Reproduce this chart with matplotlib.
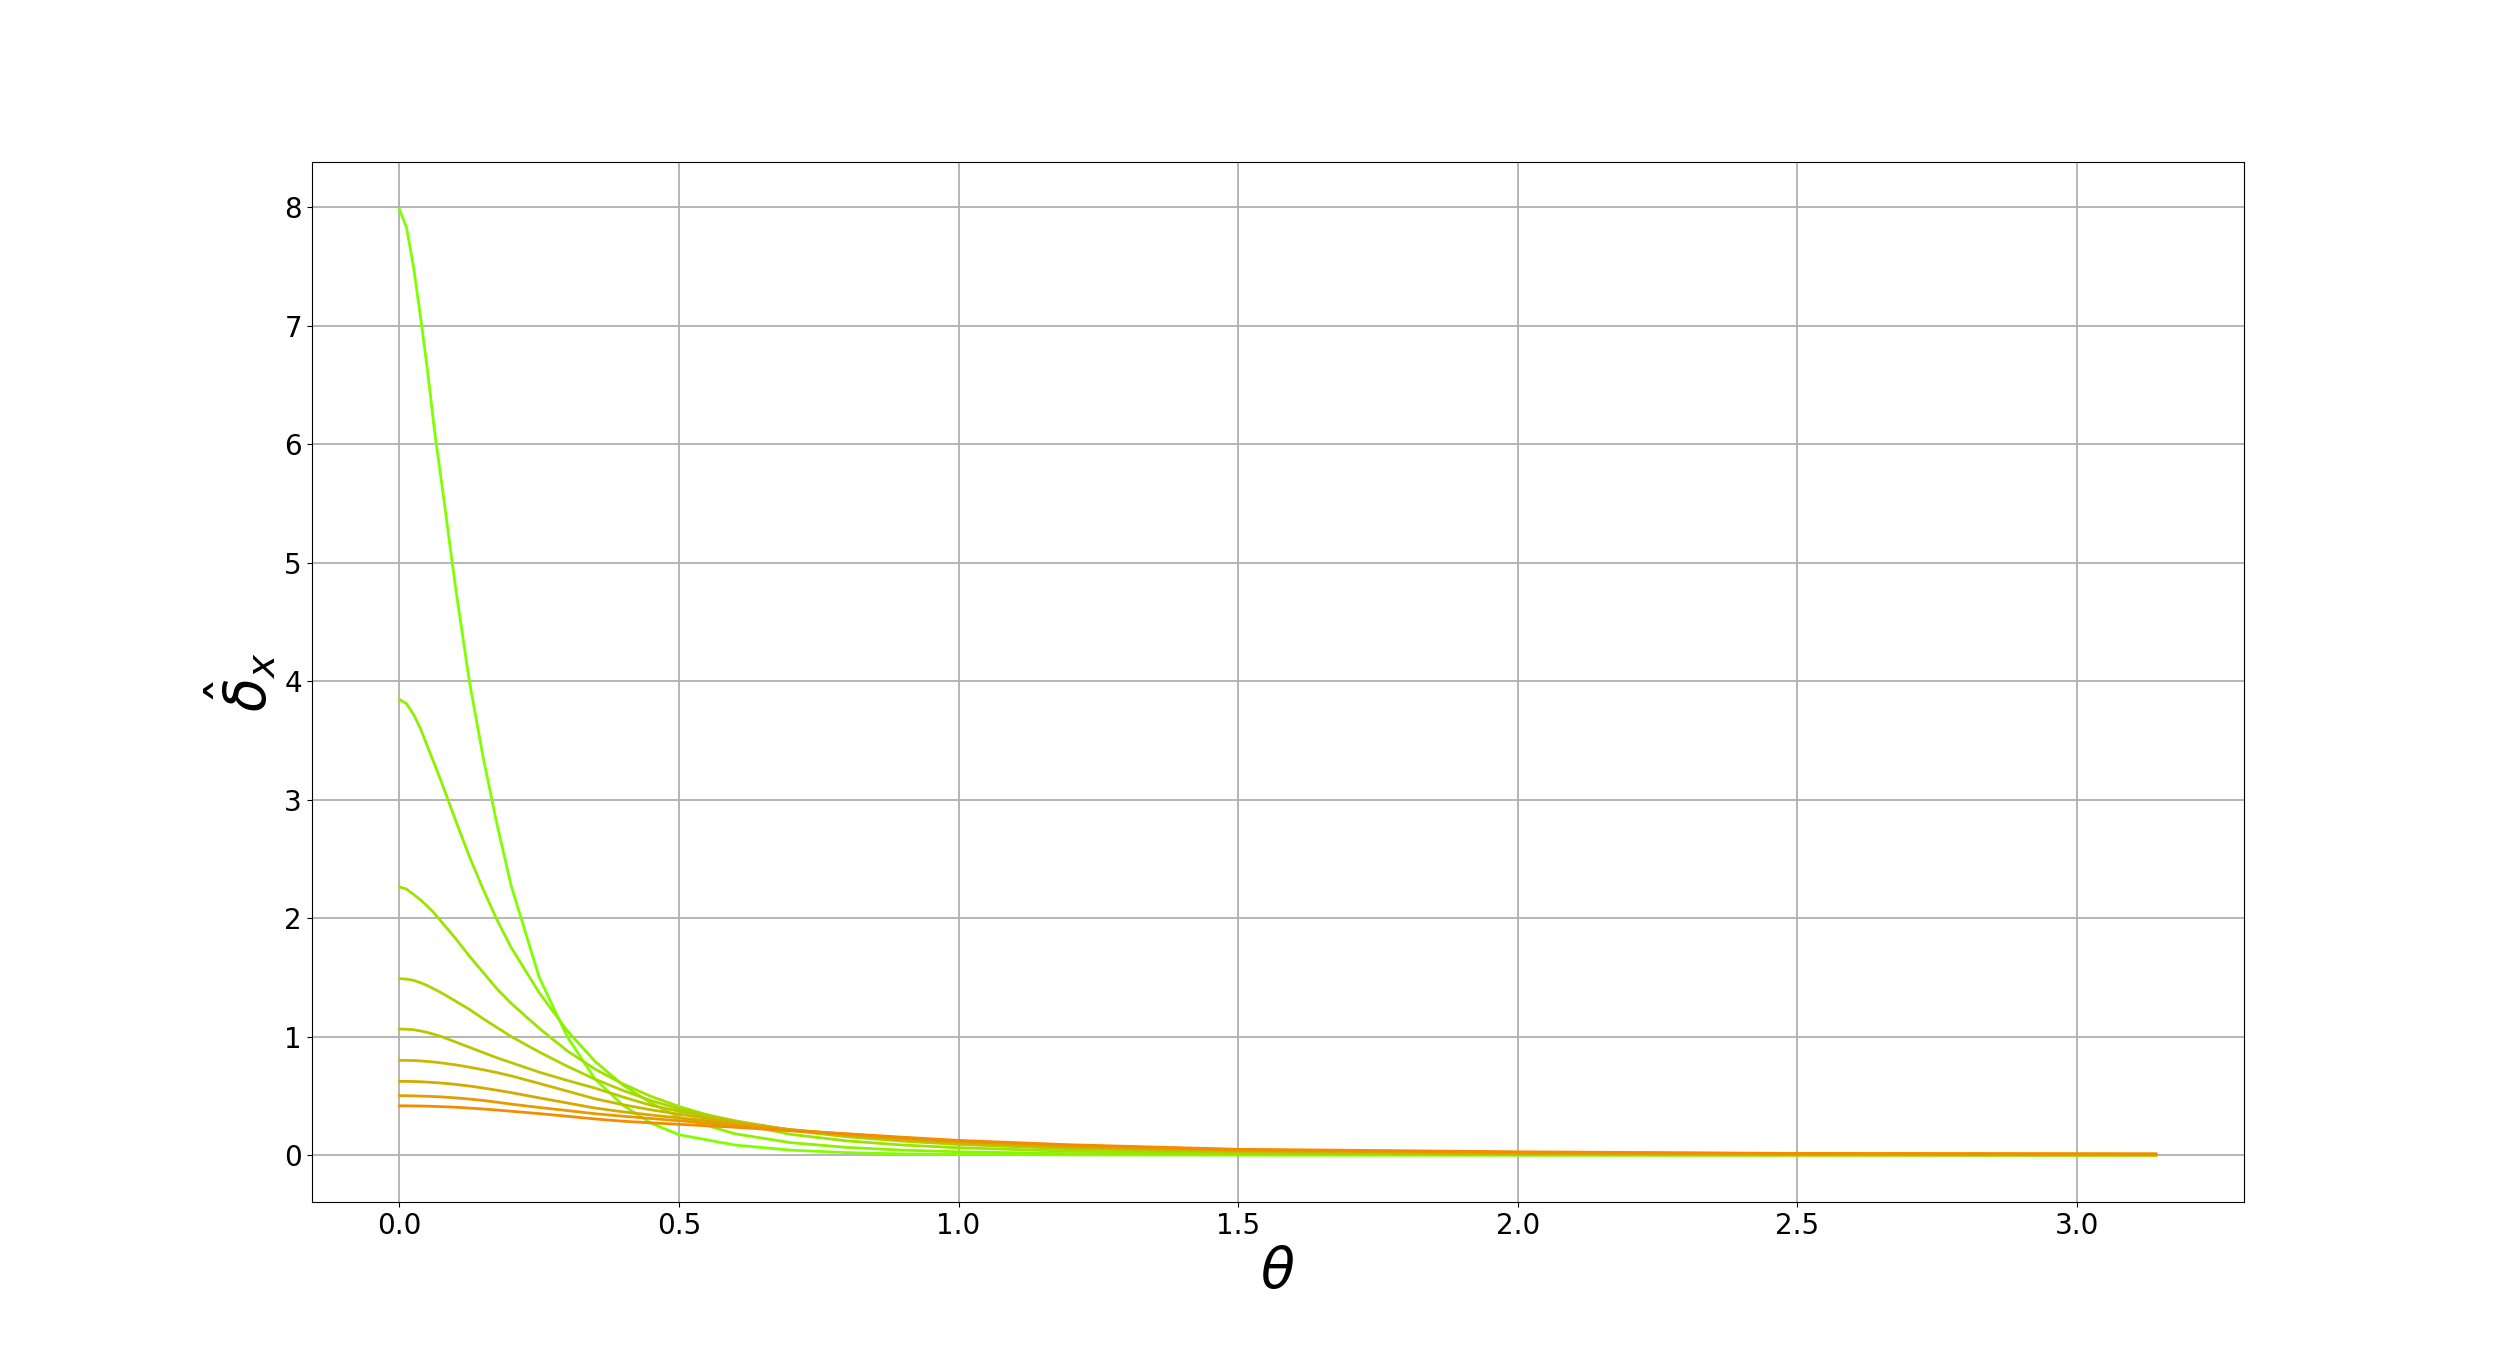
import matplotlib
matplotlib.use("Agg")
import matplotlib.pyplot as plt

# sample angles (rad) shared by all curves
theta = [0.0, 0.0125, 0.025, 0.0375, 0.05, 0.0625, 0.075, 0.1, 0.125, 0.15, 0.175, 0.2, 0.25, 0.3,
         0.35, 0.4, 0.45, 0.5, 0.6, 0.7, 0.8, 0.9, 1.0, 1.2, 1.5, 2.0, 2.5, 3.14159]

# delta_x curves, steepest (green) to flattest (orange)
d1 = [7.98, 7.83, 7.50, 7.08, 6.63, 6.12, 5.69, 4.80, 4.00, 3.35, 2.78, 2.27, 1.50, 1.00,
      0.64, 0.42, 0.27, 0.172, 0.085, 0.042, 0.021, 0.010, 0.006, 0.002, 0.0, 0.0, 0.0, 0.0]
d2 = [3.844, 3.81, 3.72, 3.60, 3.45, 3.30, 3.15, 2.83, 2.52, 2.24, 1.98, 1.75, 1.37, 1.05,
      0.79, 0.59, 0.44, 0.32, 0.18, 0.105, 0.065, 0.042, 0.028, 0.012, 0.004, 0.001, 0.0, 0.0]
d3 = [2.263, 2.245, 2.20, 2.155, 2.10, 2.04, 1.97, 1.83, 1.68, 1.54, 1.40, 1.28, 1.07, 0.88,
      0.725, 0.60, 0.495, 0.41, 0.27, 0.175, 0.12, 0.085, 0.062, 0.033, 0.014, 0.004, 0.001, 0.0]
d4 = [1.489, 1.485, 1.475, 1.455, 1.43, 1.40, 1.37, 1.30, 1.23, 1.15, 1.075, 1.00, 0.87, 0.75,
      0.64, 0.545, 0.46, 0.39, 0.29, 0.208, 0.155, 0.118, 0.090, 0.054, 0.025, 0.008, 0.003, 0.001]
d5 = [1.064, 1.062, 1.058, 1.048, 1.035, 1.018, 1.00, 0.955, 0.91, 0.865, 0.82, 0.78, 0.70, 0.63,
      0.565, 0.49, 0.42, 0.37, 0.285, 0.212, 0.163, 0.127, 0.099, 0.061, 0.030, 0.011, 0.005, 0.002]
d6 = [0.800, 0.799, 0.798, 0.795, 0.79, 0.785, 0.778, 0.762, 0.742, 0.72, 0.696, 0.668, 0.605, 0.54,
      0.475, 0.425, 0.382, 0.345, 0.275, 0.213, 0.168, 0.133, 0.106, 0.068, 0.035, 0.015, 0.007, 0.004]
d7 = [0.622, 0.622, 0.621, 0.619, 0.616, 0.612, 0.608, 0.597, 0.583, 0.566, 0.547, 0.527, 0.483, 0.44,
      0.397, 0.365, 0.338, 0.314, 0.265, 0.215, 0.174, 0.139, 0.112, 0.075, 0.040, 0.019, 0.009, 0.006]
d8 = [0.501, 0.501, 0.500, 0.498, 0.496, 0.494, 0.491, 0.483, 0.473, 0.461, 0.446, 0.430, 0.402, 0.376,
      0.349, 0.328, 0.309, 0.290, 0.250, 0.210, 0.178, 0.145, 0.118, 0.081, 0.045, 0.023, 0.012, 0.008]
d9 = [0.416, 0.416, 0.415, 0.414, 0.413, 0.411, 0.409, 0.404, 0.397, 0.389, 0.380, 0.370, 0.350, 0.328,
      0.305, 0.286, 0.272, 0.260, 0.235, 0.205, 0.180, 0.151, 0.124, 0.087, 0.049, 0.028, 0.014, 0.011]

curves = [d1, d2, d3, d4, d5, d6, d7, d8, d9]

# colour ramp: chartreuse -> dark orange
c_start = (0.50, 1.00, 0.0)
c_end = (0.96, 0.55, 0.0)

fig = plt.figure(figsize=(24.93, 13.51), dpi=100)
ax = fig.add_subplot(111)

n = len(curves)
for i, d in enumerate(curves):
    t = i / (n - 1)
    col = tuple(a + (b - a) * t for a, b in zip(c_start, c_end))
    ax.plot(theta, d, color=col, linewidth=2.0)

ax.grid(True, color='#b0b0b0', linewidth=1.3)
ax.tick_params(labelsize=20)
ax.set_xlabel(r'$\theta$', fontsize=40)
ax.set_ylabel(r'$\hat{\delta}_x$', fontsize=40)

fig.savefig("out.png", dpi=100)
